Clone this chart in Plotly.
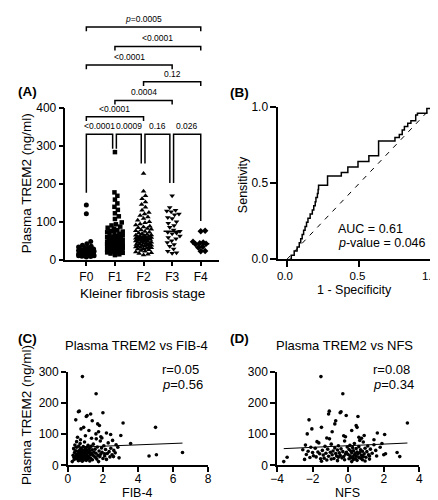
import numpy as np
import plotly.graph_objects as go

W, H = 438, 500
FONT = "Liberation Sans, Arial, sans-serif"

# ---------------- data ----------------
stages = ["F0", "F1", "F2", "F3", "F4"]
trem2_f0 = [144, 121, 48, 42, 38, 35, 33, 31, 30, 28, 27, 26, 25, 24, 23, 23, 22, 21, 21, 20,
            20, 19, 19, 18, 18, 17, 17, 16, 16, 15, 15, 15, 14, 14, 13, 13, 12, 12, 11, 11,
            10, 10, 9, 8, 7]
trem2_f1 = [283, 177, 168, 158, 148, 139, 131, 122, 114, 107, 98, 93, 90, 87, 84, 81, 78, 76, 74, 72,
            70, 68, 66, 64, 62, 60, 59, 58, 57, 56, 55, 54, 53, 52, 51, 50, 49, 48, 47, 46,
            45, 44, 43, 43, 42, 42, 41, 41, 40, 40, 39, 39, 38, 38, 37, 37, 36, 36, 35, 35,
            34, 34, 33, 33, 32, 32, 31, 30, 30, 29, 28, 28, 27, 26, 25, 25, 24, 23, 22, 21,
            20, 19, 18, 16, 14, 12]
trem2_f2 = [227, 180, 168, 160, 152, 145, 138, 130, 124, 120, 116, 112, 108, 104, 100, 97, 94, 91, 88, 86,
            84, 82, 80, 78, 76, 74, 72, 70, 68, 66, 65, 64, 63, 62, 61, 60, 59, 58, 57, 56,
            56, 55, 55, 54, 54, 53, 52, 51, 50, 49, 48, 47, 46, 45, 44, 43, 42, 41, 40, 39,
            38, 37, 36, 35, 34, 33, 32, 31, 30, 29, 28, 26, 24, 22, 20, 18, 16, 14, 12]
trem2_f3 = [168, 137, 130, 128, 126, 120, 118, 111, 108, 100, 96, 90, 85, 78, 75, 72, 70, 68, 62, 58,
            55, 50, 45, 40, 35, 28, 22, 18, 17]
trem2_f4 = [76, 75, 47, 45, 43, 42, 41, 34, 32, 23, 22]
groups = [trem2_f0, trem2_f1, trem2_f2, trem2_f3, trem2_f4]

# pairwise comparisons (group indices), p labels
pairs = [(0, 1), (1, 2), (2, 3), (3, 4), (0, 2), (1, 3), (2, 4), (0, 3), (1, 4), (0, 4)]
p_labels = ["<0.0001", "0.0009", "0.16", "0.026", "<0.0001", "0.0004", "0.12",
            "<0.0001", "<0.0001", "<i>p</i>=0.0005"]
bracket_tops = [330, 330, 330, 330, 376, 419, 468, 512, 561, 612]
leg_ends = [176, 292, 253, 202, 102]   # bracket legs above each group (adjacent pairs)

# ROC
roc_fpr = [0.018, 0.03, 0.05, 0.07, 0.085, 0.095, 0.105, 0.115, 0.125, 0.135, 0.145, 0.16,
           0.175, 0.185, 0.195, 0.2, 0.21, 0.215, 0.218, 0.28, 0.375, 0.42, 0.49, 0.565,
           0.632, 0.745, 0.775, 0.795, 0.81, 0.833, 0.855, 0.888, 0.9, 0.965, 1.0]
roc_tpr = [0.0, 0.027, 0.054, 0.08, 0.108, 0.135, 0.162, 0.19, 0.216, 0.243, 0.27, 0.297,
           0.324, 0.351, 0.378, 0.405, 0.432, 0.459, 0.486, 0.547, 0.57, 0.606, 0.643, 0.68,
           0.777, 0.8, 0.82, 0.85, 0.872, 0.894, 0.91, 0.947, 0.96, 0.99, 1.0]
auc_text = "AUC = 0.61"
roc_p_text = "<i>p</i>-value = 0.046"

# Correlations (paired per patient)
trem2 = [285, 230, 174, 172, 165, 157, 160, 146, 169, 143, 136, 122, 133, 128, 122, 117, 101, 104, 99, 96,
         112, 108, 95, 90, 88,
         30, 34, 41, 70, 26, 12, 28, 37,
         78, 75, 72, 70, 68, 66, 65, 64, 63, 62, 61, 60, 59, 58, 58, 57, 56, 55, 55, 54,
         53, 52, 52, 51, 50, 50, 49, 48, 48, 47, 46, 46, 45, 45, 44, 44, 43, 43, 42, 42,
         41, 41, 40, 40, 39, 39, 38, 38, 37, 37, 36, 36, 35, 35, 34, 34, 33, 33, 32, 32,
         31, 31, 30, 30, 29, 29, 28, 28, 27, 27, 26, 26, 25, 25, 24, 24, 23, 23, 22, 22,
         21, 21, 20, 20, 19, 19, 18, 18, 17, 16, 15, 14, 13, 12, 85, 82, 80, 92, 87, 76]
fib4 = [0.83, 1.61, 0.65, 0.60, 1.30, 1.05, 1.10, 0.45, 2.00, 1.39, 3.15, 5.00, 1.70, 1.80, 0.90, 0.75,
        1.60, 2.20, 2.44, 3.02, 1.20, 1.75, 1.00, 0.55, 1.94,
        4.63, 5.05, 6.54, 3.58, 0.35, 0.25, 2.60, 2.10,
        1.85, 0.95, 2.30, 0.70, 1.45, 2.75, 0.40, 1.15, 2.05, 0.62,
        1.32, 0.88, 1.68, 2.85, 0.50, 1.05, 1.92, 0.75, 2.45, 1.22,
        0.33, 1.55, 0.98, 2.15, 0.68, 1.38, 0.82, 2.62, 1.10, 0.45,
        1.78, 0.92, 1.25, 0.58, 2.35, 1.02, 0.72, 1.48, 0.85, 1.95,
        0.38, 1.18, 2.70, 0.65, 1.60, 0.90, 1.35, 2.25, 0.55, 1.08,
        0.78, 1.88, 0.48, 1.28, 2.52, 0.95, 0.60, 1.42, 1.72, 0.30,
        1.12, 0.80, 2.10, 0.52, 1.50, 0.97, 0.68, 1.82, 2.40, 0.42,
        1.20, 0.88, 1.58, 0.62, 2.92, 1.00, 0.74, 1.30, 0.46, 2.00,
        0.85, 1.15, 0.56, 1.65, 0.36, 2.20, 0.92, 1.40, 0.70, 1.05,
        0.60, 1.25, 0.82, 1.75, 1.62, 0.72, 2.55, 1.88, 1.35, 0.50]
nfs = [-1.53, -0.30, -1.06, -0.40, -1.10, 0.55, -0.11, -2.20, -0.45, -0.70, 3.33, 0.50, -0.75, 0.45,
       -1.50, -2.04, -2.30, 1.64, 2.05, 0.90, 0.20, -0.90, -0.25, 0.60, -1.20,
       1.20, 2.00, 2.75, 1.90, -3.43, -3.62, 2.90, 2.10,
       -0.20, 0.85, -1.65, 0.35, -0.95, 1.45, -2.40, 0.10, -0.55, 1.10,
       -1.30, 0.60, -0.05, 1.80, -2.10, 0.25, -0.75, 0.95, -1.85, 0.45,
       -0.40, 1.25, -1.15, 0.05, -2.55, 0.70, -0.60, 1.55, -1.45, 0.30,
       -0.85, 0.15, -2.25, 0.80, -0.30, 1.05, -1.70, 0.50, -0.10, -1.00,
       0.65, -2.00, 0.20, -0.50, 1.35, -1.25, 0.40, -0.70, 0.90, -1.60,
       -0.15, 0.55, -2.35, 0.00, -0.90, 1.15, -1.40, 0.35, -0.45, 0.75,
       -1.95, 0.10, -0.65, 1.60, -1.10, 0.45, -0.25, 0.85, -1.80, 0.25,
       -0.55, 1.00, -2.15, 0.60, -0.35, 0.15, -1.35, 0.70, -0.80, 0.40,
       -1.55, 0.05, -0.95, 1.20, -2.45, 0.30, -0.20, 0.80, -1.20, 0.50,
       -0.60, 0.95, -1.50, 0.20, -1.05, 1.45, 0.65, -0.15, 0.75, -1.75]
fit_fib4 = (57.0, 2.2)    # intercept, slope
fit_nfs = (63.0, 2.6)
stat_fib4 = ("r=0.05", "<i>p</i>=0.56")
stat_nfs = ("r=0.08", "<i>p</i>=0.34")

# ---------------- layout geometry (reference pixels -> paper) ----------------
def X(p):
    return p / W

def Y(p):
    return 1 - p / H

A_XDOM = [X(52), X(210)]
A_XR = [-0.73, 4.63]
A_YDOM = [Y(251.7), Y(95.3)]
A_YR = [0, 400]
BRK_DOM = [Y(251.7), 1.0]
BRK_R = [0, 400 * 251.7 / (251.7 - 95.3)]
B_XDOM = [X(271.3), X(429.7)]
B_XR = [-0.06, 1.0]
B_YDOM = [Y(251.3), Y(94.7)]
C_XDOM = [X(54.5), X(199)]
D_XDOM = [X(270), X(416.7)]
CD_YDOM = [Y(463.3), Y(367.2)]

fig = go.Figure()

# ---------- Panel A: swarm ----------
xpx = (A_XDOM[1] - A_XDOM[0]) * W / (A_XR[1] - A_XR[0])
ypx = (A_YDOM[1] - A_YDOM[0]) * H / (A_YR[1] - A_YR[0])


def swarm(vals_px, d, maxw):
    order = np.argsort(vals_px)
    placed = []
    out = np.zeros(len(vals_px))
    cands = [0.0]
    k = 1
    while k * 0.5 <= maxw:
        cands += [k * 0.5, -k * 0.5]
        k += 1
    for idx in order:
        y = vals_px[idx]
        near = [(a, b) for a, b in placed if abs(b - y) < d]
        best, bestd = None, -1.0
        for s in cands:
            md = min([np.hypot(s - a, y - b) for a, b in near], default=1e9)
            if md >= d:
                best = s
                break
            if md > bestd + 0.05:
                best, bestd = s, md
        out[idx] = best
        placed.append((best, y))
    return out

symbols = ["circle", "square", "triangle-up", "triangle-down", "diamond"]
msizes = [5, 4.5, 5, 5, 5]
for i, g in enumerate(groups):
    v = np.array(g, dtype=float)
    off = swarm(v * ypx, 4.5, 8.0) / xpx
    fig.add_trace(go.Scatter(x=i + off, y=v, mode="markers", xaxis="x", yaxis="y",
                             marker=dict(symbol=symbols[i], size=msizes[i], color="black",
                                         line=dict(width=0)),
                             cliponaxis=False, hoverinfo="skip"))
    med = float(np.median(v))
    fig.add_trace(go.Scatter(x=[i - 0.3, i + 0.3], y=[med, med], mode="lines",
                             xaxis="x", yaxis="y", line=dict(color="black", width=1.5),
                             hoverinfo="skip"))

# brackets
for (a, b), lab, top in zip(pairs, p_labels, bracket_tops):
    if b - a == 1:
        xa = a + (0.05 if a > 0 else 0.0)
        xb = b - (0.08 if b < 4 else 0.0)
        ya, yb = leg_ends[a], leg_ends[b]
    else:
        xa, xb = a, b
        ya, yb = top - 11, top - 11
    fig.add_trace(go.Scatter(x=[xa, xa, xb, xb], y=[ya, top, top, yb], mode="lines",
                             xaxis="x", yaxis="y5", line=dict(color="black", width=1.5),
                             hoverinfo="skip"))
    fig.add_annotation(x=(xa + xb) / 2, y=top + 3, xref="x", yref="y5", text=lab,
                       showarrow=False, yanchor="bottom", font=dict(size=8.5, color="black"))

# ---------- Panel B: ROC ----------
fig.add_trace(go.Scatter(x=[0, 1], y=[0, 1], mode="lines", xaxis="x2", yaxis="y2",
                         line=dict(color="black", width=1, dash="5px,6px"), hoverinfo="skip"))
fig.add_trace(go.Scatter(x=roc_fpr, y=roc_tpr, mode="lines", xaxis="x2", yaxis="y2",
                         line=dict(color="black", width=1.5, shape="hv"), hoverinfo="skip"))

# ---------- Panels C, D ----------
for xs, fit, xa, ya in [(fib4, fit_fib4, "x3", "y3"), (nfs, fit_nfs, "x4", "y4")]:
    fig.add_trace(go.Scatter(x=xs, y=trem2, mode="markers", xaxis=xa, yaxis=ya,
                             marker=dict(size=3.6, color="black"), cliponaxis=False,
                             hoverinfo="skip"))
    lx = np.array([min(xs), max(xs)])
    fig.add_trace(go.Scatter(x=lx, y=fit[0] + fit[1] * lx, mode="lines", xaxis=xa, yaxis=ya,
                             line=dict(color="black", width=1), hoverinfo="skip"))

# ---------- axes ----------
ax = dict(showline=True, linecolor="black", linewidth=1.5, ticks="outside", ticklen=5,
          tickwidth=1.5, tickcolor="black", showgrid=False, zeroline=False,
          tickfont=dict(size=12, color="black", family=FONT), fixedrange=True,
          ticklabeloverflow="allow")

fig.update_layout(
    width=W, height=H, margin=dict(l=0, r=0, t=0, b=0, pad=0),
    paper_bgcolor="white", plot_bgcolor="rgba(0,0,0,0)", showlegend=False,
    font=dict(family=FONT, color="black"),
    xaxis=dict(ax, domain=A_XDOM, range=A_XR, anchor="y", tickvals=list(range(5)),
               ticktext=stages),
    yaxis=dict(ax, domain=A_YDOM, range=A_YR, anchor="x", tickvals=[0, 100, 200, 300, 400]),
    yaxis5=dict(domain=BRK_DOM, range=BRK_R, anchor="x", visible=False, fixedrange=True),
    xaxis2=dict(ax, domain=B_XDOM, range=B_XR, anchor="y2", tickvals=[0, 0.5, 1.0],
                tickformat=".1f", ticklen=6, ticklabelstandoff=-1, ticklabelshift=-2,
                tickfont=dict(size=11.5, color="black", family=FONT)),
    yaxis2=dict(ax, domain=B_YDOM, range=[0, 1], anchor="x2", tickvals=[0, 0.5, 1.0],
                tickformat=".1f", ticklen=6),
    xaxis3=dict(ax, domain=C_XDOM, range=[0, 8], anchor="y3", tickvals=[0, 2, 4, 6, 8],
                ticklabelstandoff=-3),
    yaxis3=dict(ax, domain=CD_YDOM, range=[0, 300], anchor="x3", tickvals=[0, 100, 200, 300]),
    xaxis4=dict(ax, domain=D_XDOM, range=[-4, 4], anchor="y4", tickvals=[-4, -2, 0, 2, 4],
                ticklabelstandoff=-3),
    yaxis4=dict(ax, domain=CD_YDOM, range=[0, 300], anchor="x4", tickvals=[0, 100, 200, 300]),
)

# ---------- text labels (paper coordinates) ----------
def txt(text, px, py, size=13, xanchor="center", angle=0, bold=False):
    if bold:
        text = "<b>" + text + "</b>"
    fig.add_annotation(x=X(px), y=Y(py), xref="paper", yref="paper", text=text,
                       showarrow=False, xanchor=xanchor, yanchor="middle", textangle=angle,
                       font=dict(size=size, color="black", family=FONT))

txt("(A)", 1, 79, 13.5, "left", bold=True)
txt("(B)", 219, 80, 13.5, "left", bold=True)
txt("(C)", 1, 333, 13.5, "left", bold=True)
txt("(D)", 220, 333, 13.5, "left", bold=True)
txt("Plasma TREM2 (ng/ml)", 12, 173.5, 13.5, angle=-90)
txt("Kleiner fibrosis stage", 131, 287, 13.5)
txt("Sensitivity", 235, 175, 12.5, angle=-90)
txt("1 - Specificity", 350, 283, 12.5)
txt(auc_text, 331, 220, 12.5, "left")
txt(roc_p_text, 331, 235, 12.5, "left")
txt("Plasma TREM2 vs FIB-4", 125, 340, 13)
txt("Plasma TREM2 vs NFS", 340, 340, 13)
txt("Plasma TREM2 (ng/ml)", 12, 412, 13.5, angle=-90)
txt("FIB-4", 126, 491.5, 12.5)
txt("NFS", 343, 491.5, 12.5)
txt(stat_fib4[0], 149, 365, 13, "left")
txt(stat_fib4[1], 149, 380, 13, "left")
txt(stat_nfs[0], 367, 365, 13, "left")
txt(stat_nfs[1], 367, 380, 13, "left")

fig.write_html("out.html")
